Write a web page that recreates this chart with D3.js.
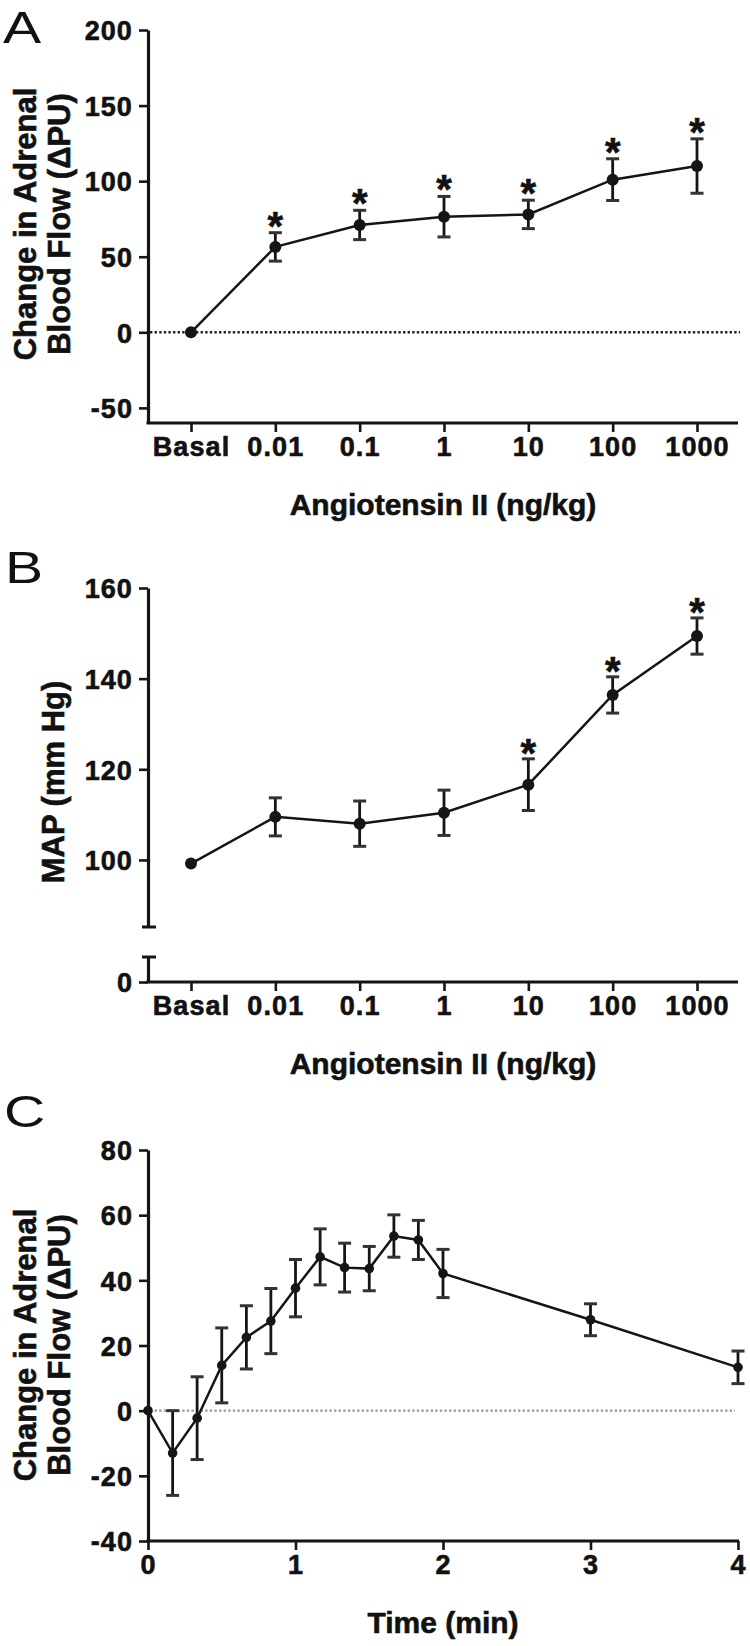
<!DOCTYPE html>
<html>
<head>
<meta charset="utf-8">
<script src="https://cdn.jsdelivr.net/npm/d3@7"></script>
<style>
  html, body { margin: 0; padding: 0; background: #fff; }
  svg text { font-family: "Liberation Sans", Arial, Helvetica, sans-serif; fill: #111; }
  svg text.heavy { stroke: #111; stroke-width: 0.6px; }
</style>
</head>
<body>
<svg id="chart" width="750" height="1646"></svg>
<script>
// ---------- data ----------
const doseLabels = ["Basal", "0.01", "0.1", "1", "10", "100", "1000"];
const flowMean   = [0, 56.5, 71, 76.5, 78, 101, 110];
const flowErr    = [0, 9.4, 9.7, 13.4, 9.4, 13.8, 18];
const flowSig    = [false, true, true, true, true, true, true];

const mapMean = [99.2, 109.5, 108, 110.4, 116.6, 136.4, 149.4];
const mapErr  = [1, 4.2, 5, 5, 5.7, 4, 4];
const mapSig  = [false, false, false, false, true, true, true];

const timeMin      = [0, 0.167, 0.333, 0.5, 0.667, 0.833, 1, 1.167, 1.333, 1.5, 1.667, 1.833, 2, 3, 4];
const timeFlowMean = [0, -13, -2.3, 13.9, 22.5, 27.5, 37.6, 47.2, 43.9, 43.6, 53.6, 52.4, 42.1, 27.9, 13.3];
const timeFlowErr  = [0, 13, 12.7, 11.5, 9.7, 10, 8.8, 8.6, 7.5, 6.8, 6.5, 6, 7.4, 4.9, 5];

const flowTicks = [-50, 0, 50, 100, 150, 200];
const mapTicksUpper = [100, 120, 140, 160];
const mapTicksLower = [0];
const timeFlowTicks = [-40, -20, 0, 20, 40, 60, 80];
const timeTicks = [0, 1, 2, 3, 4];

const yTitleA = ["Change in Adrenal", "Blood Flow (\u0394PU)"];
const xTitleDose = "Angiotensin II (ng/kg)";
const yTitleB = "MAP (mm Hg)";
const xTitleTime = "Time (min)";

// ---------- drawing ----------
const svg = d3.select("#chart");
svg.append("rect").attr("width", 750).attr("height", 1646).attr("fill", "#fff");

const AX = 148, XR = 738;
const INK = "#151515";
const plain = d => String(d);   // hyphen-minus, no decimals

function styleAxis(g) {
  g.select(".domain").attr("stroke", INK).attr("stroke-width", 3.2);
  g.selectAll(".tick line").attr("stroke", INK).attr("stroke-width", 2.6);
  g.selectAll(".tick text")
    .attr("class", "heavy")
    .attr("font-size", 27).attr("font-weight", "bold")
    .attr("letter-spacing", 1.1).attr("fill", "#111");
}

function panelLetter(txt, x, y) {
  svg.append("text").text(txt)
    .attr("transform", `translate(${x},${y}) scale(1.3,1)`)
    .attr("font-size", 44).attr("font-weight", "normal");
}

function xAxisDose(y) {
  const x = d3.scalePoint().domain(doseLabels).range([191, 697]);
  const g = svg.append("g").attr("transform", `translate(0,${y})`)
    .call(d3.axisBottom(x).tickSize(9).tickSizeOuter(0).tickPadding(8));
  g.select(".domain").attr("d", `M${AX - 1.5},0H${XR}`);
  styleAxis(g);
  g.selectAll(".tick text").attr("dy", "0.71em").attr("y", 14);
  svg.append("text").text(xTitleDose).attr("class", "heavy")
    .attr("x", 443).attr("y", y + 92)
    .attr("text-anchor", "middle").attr("font-size", 30).attr("font-weight", "bold");
  return x;
}

function drawSeries(x, y, xvals, means, errs, r, capW) {
  const g = svg.append("g");
  const pts = xvals.map((xv, i) => ({ x: x(xv), y: y(means[i]), yt: y(means[i] + errs[i]), yb: y(means[i] - errs[i]) }));
  const line = d3.line().x(d => d.x).y(d => d.y);
  g.append("path").attr("d", line(pts)).attr("fill", "none")
    .attr("stroke", INK).attr("stroke-width", 2.5);
  const eb = g.selectAll(".eb").data(pts.filter((d, i) => errs[i] > 1.2)).enter().append("g");
  eb.append("line").attr("x1", d => d.x).attr("x2", d => d.x)
    .attr("y1", d => d.yt).attr("y2", d => d.yb)
    .attr("stroke", INK).attr("stroke-width", 2.8);
  eb.append("line").attr("x1", d => d.x - capW / 2).attr("x2", d => d.x + capW / 2)
    .attr("y1", d => d.yt).attr("y2", d => d.yt)
    .attr("stroke", "#333").attr("stroke-width", 3);
  eb.append("line").attr("x1", d => d.x - capW / 2).attr("x2", d => d.x + capW / 2)
    .attr("y1", d => d.yb).attr("y2", d => d.yb)
    .attr("stroke", "#333").attr("stroke-width", 3);
  g.selectAll(".pt").data(pts).enter().append("circle")
    .attr("cx", d => d.x).attr("cy", d => d.y).attr("r", r).attr("fill", INK);
  return pts;
}

function stars(pts, sig, gap) {
  svg.append("g").selectAll("text").data(pts.filter((d, i) => sig[i])).enter()
    .append("text").text("*").attr("class", "heavy")
    .attr("x", d => d.x).attr("y", d => d.yt - gap + 23)
    .attr("text-anchor", "middle").attr("font-size", 40).attr("font-weight", "bold");
}

function yTitleTwoLines(lines, cy) {
  const t = svg.append("text").attr("class", "heavy")
    .attr("transform", `translate(0,${cy}) rotate(-90)`)
    .attr("text-anchor", "middle").attr("font-size", 31).attr("font-weight", "bold");
  t.append("tspan").attr("x", 0).attr("y", 36).text(lines[0]);
  t.append("tspan").attr("x", 0).attr("y", 70).text(lines[1]);
}

// ===== Panel A =====
panelLetter("A", 3, 43);
const yA = d3.scaleLinear().domain([-60, 200]).range([423, 30]);
{
  const g = svg.append("g").attr("transform", `translate(${AX},0)`)
    .call(d3.axisLeft(yA).tickValues(flowTicks).tickFormat(plain).tickSize(9).tickSizeOuter(0).tickPadding(6));
  styleAxis(g);
  g.selectAll(".tick text").attr("dy", "0.36em");
}
svg.append("line").attr("x1", AX + 2).attr("x2", 740).attr("y1", yA(0)).attr("y2", yA(0))
  .attr("stroke", "#222").attr("stroke-width", 2.5).attr("stroke-dasharray", "2.4,2.2");
const xA = xAxisDose(423);
const ptsA = drawSeries(xA, yA, doseLabels, flowMean, flowErr, 6, 13);
stars(ptsA, flowSig, 16);
yTitleTwoLines(yTitleA, 224);

// ===== Panel B =====
panelLetter("B", 5, 583);
const yBU = d3.scaleLinear().domain([85.2, 160]).range([927, 588]);
const yBL = d3.scaleLinear().domain([0, 5.5]).range([982, 957]);
{
  const g = svg.append("g").attr("transform", `translate(${AX},0)`)
    .call(d3.axisLeft(yBU).tickValues(mapTicksUpper).tickFormat(plain).tickSize(9).tickSizeOuter(0).tickPadding(6));
  styleAxis(g);
  g.selectAll(".tick text").attr("dy", "0.36em");
  const g2 = svg.append("g").attr("transform", `translate(${AX},0)`)
    .call(d3.axisLeft(yBL).tickValues(mapTicksLower).tickFormat(plain).tickSize(9).tickSizeOuter(0).tickPadding(6));
  styleAxis(g2);
  g2.selectAll(".tick text").attr("dy", "0.36em");
  [yBU.range()[0], yBL.range()[1]].forEach(yy => {
    svg.append("line").attr("x1", AX - 6).attr("x2", AX + 8).attr("y1", yy).attr("y2", yy)
      .attr("stroke", INK).attr("stroke-width", 3);
  });
}
const xB = xAxisDose(982);
const ptsB = drawSeries(xB, yBU, doseLabels, mapMean, mapErr, 6, 13);
stars(ptsB, mapSig, 15);
svg.append("text").text(yTitleB).attr("class", "heavy")
  .attr("transform", `translate(0,782) rotate(-90)`)
  .attr("x", 0).attr("y", 64)
  .attr("text-anchor", "middle").attr("font-size", 31).attr("font-weight", "bold");

// ===== Panel C =====
panelLetter("C", 4, 1127);
const yC = d3.scaleLinear().domain([-40, 80]).range([1541, 1150]);
const xC = d3.scaleLinear().domain([0, 4]).range([AX, XR]);
{
  const g = svg.append("g").attr("transform", `translate(${AX},0)`)
    .call(d3.axisLeft(yC).tickValues(timeFlowTicks).tickFormat(plain).tickSize(9).tickSizeOuter(0).tickPadding(6));
  styleAxis(g);
  g.selectAll(".tick text").attr("dy", "0.36em");
  const gx = svg.append("g").attr("transform", `translate(0,1541)`)
    .call(d3.axisBottom(xC).tickValues(timeTicks).tickFormat(plain).tickSize(9).tickSizeOuter(0).tickPadding(8));
  gx.select(".domain").attr("d", `M${AX - 1.5},0H${XR + 1}`);
  styleAxis(gx);
  gx.selectAll(".tick text").attr("dy", "0.71em").attr("y", 14);
  svg.append("text").text(xTitleTime).attr("class", "heavy")
    .attr("x", 443).attr("y", 1541 + 92)
    .attr("text-anchor", "middle").attr("font-size", 30).attr("font-weight", "bold");
}
svg.append("line").attr("x1", AX + 2).attr("x2", 735).attr("y1", yC(0)).attr("y2", yC(0))
  .attr("stroke", "#999").attr("stroke-width", 2.2).attr("stroke-dasharray", "2.4,2.2");
drawSeries(xC, yC, timeMin, timeFlowMean, timeFlowErr, 4.8, 13);
yTitleTwoLines(yTitleA, 1345);
</script>
</body>
</html>
